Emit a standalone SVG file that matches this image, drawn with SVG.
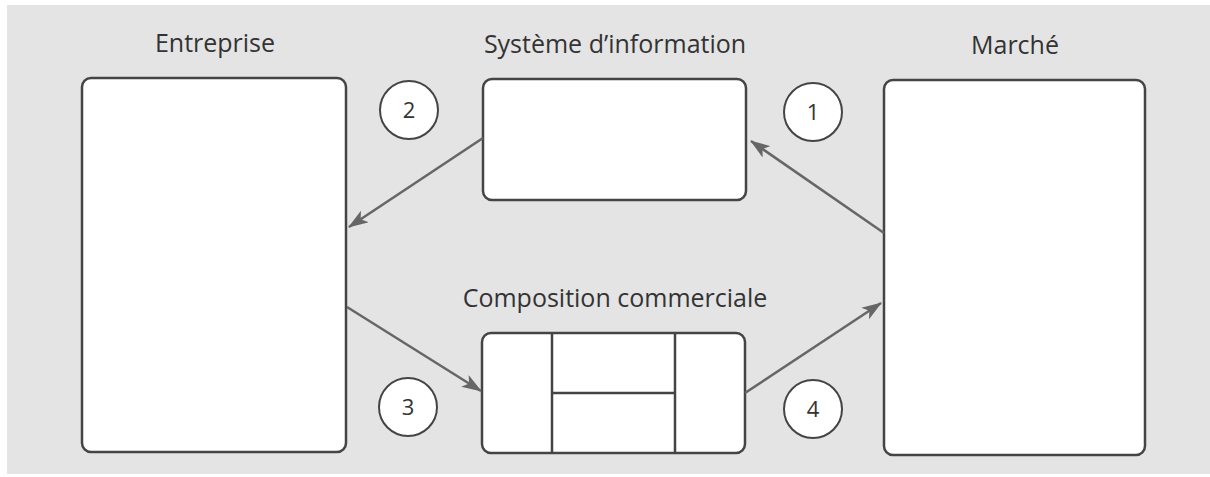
<svg xmlns="http://www.w3.org/2000/svg" width="1210" height="477" viewBox="0 0 1210 477">
  <style>
    .box { fill: #ffffff; stroke: #444444; stroke-width: 2.5; }
    .div { fill: none; stroke: #444444; stroke-width: 2.5; }
    .title { font-family: "Open Sans", "Noto Sans", sans-serif; font-size: 25px; fill: #333333; text-anchor: middle; }
    .num { font-family: "Open Sans", "Noto Sans", sans-serif; font-size: 22px; fill: #333333; text-anchor: middle; }
    .badge { fill: #ffffff; stroke: #444444; stroke-width: 2; }
    .flow { fill: none; stroke: #666666; stroke-width: 2.5; marker-end: url(#head); }
  </style>
  <defs>
    <marker id="head" viewBox="0 0 20 14" refX="19" refY="7" markerWidth="20" markerHeight="14" markerUnits="userSpaceOnUse" orient="auto">
      <path d="M0,0 L20,7 L0,14 L5,7 Z" fill="#666666"/>
    </marker>
  </defs>

  <!-- page background -->
  <rect x="7" y="5" width="1203" height="469" fill="#e4e4e4"/>

  <g id="entreprise">
    <text class="title" x="215" y="52">Entreprise</text>
    <rect class="box" x="82" y="78" width="264" height="374" rx="9"/>
  </g>

  <g id="systeme-information">
    <text class="title" x="615" y="53">Système d’information</text>
    <rect class="box" x="483" y="79" width="263" height="121" rx="9"/>
  </g>

  <g id="marche">
    <text class="title" x="1015" y="54">Marché</text>
    <rect class="box" x="884" y="80" width="261" height="375" rx="9"/>
  </g>

  <g id="composition-commerciale">
    <text class="title" x="615" y="307">Composition commerciale</text>
    <rect class="box" x="482" y="333" width="263" height="120" rx="9"/>
    <path class="div" d="M552,333 V453 M675,333 V453 M552,393 H675"/>
  </g>

  <g id="step-1">
    <circle class="badge" cx="813" cy="112" r="29"/>
    <text class="num" x="813" y="120">1</text>
  </g>
  <g id="step-2">
    <circle class="badge" cx="409" cy="110" r="29"/>
    <text class="num" x="409" y="118">2</text>
  </g>
  <g id="step-3">
    <circle class="badge" cx="408" cy="407" r="29"/>
    <text class="num" x="408" y="415">3</text>
  </g>
  <g id="step-4">
    <circle class="badge" cx="813" cy="409" r="29"/>
    <text class="num" x="813" y="417">4</text>
  </g>

  <g id="connectors">
    <line class="flow" x1="884" y1="233" x2="751" y2="141"/>
    <line class="flow" x1="483" y1="138" x2="349" y2="227"/>
    <line class="flow" x1="347" y1="307" x2="481" y2="391"/>
    <line class="flow" x1="745" y1="393" x2="881" y2="303"/>
  </g>
</svg>
